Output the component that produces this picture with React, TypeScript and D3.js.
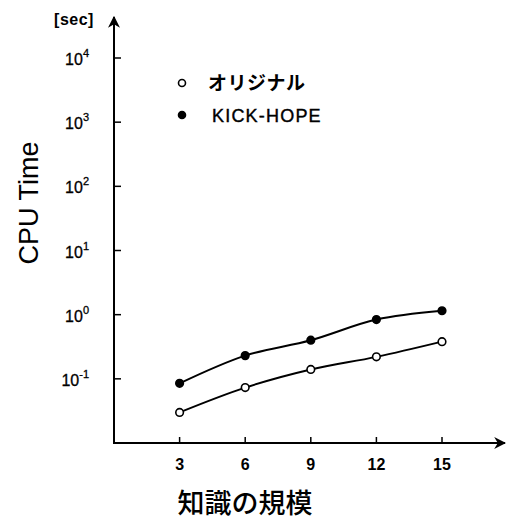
import React, { useEffect, useRef } from 'react';
import * as d3 from 'd3';

// knowledge scale (x) and CPU time in sec (log y)
const sizes = [3, 6, 9, 12, 15];
const original = [0.030, 0.073, 0.14, 0.22, 0.38];
const kickHope = [0.085, 0.23, 0.40, 0.84, 1.15];
const xTicks = [3, 6, 9, 12, 15];
const yExponents = [-1, 0, 1, 2, 3, 4];
const seriesNames = ['オリジナル', 'KICK-HOPE'];

const W = 510;
const H = 520;
const FONT = '"Liberation Sans", Arial, sans-serif';
const CJK = '"Noto Sans CJK JP", sans-serif';

export default function App() {
  const ref = useRef<SVGSVGElement>(null);

  useEffect(() => {
    const svg = d3.select(ref.current);
    svg.selectAll('*').remove();

    const x = d3.scaleLinear().domain([0, 15]).range([114, 442]);
    const y = d3.scaleLog().domain([0.01, 1e4]).range([443, 58]);
    const x0 = x(0);
    const y0 = y(0.01);

    // arrow head marker
    const defs = svg.append('defs');
    defs.append('marker')
      .attr('id', 'arrow')
      .attr('viewBox', '0 0 10 10')
      .attr('refX', 9)
      .attr('refY', 5)
      .attr('markerWidth', 12)
      .attr('markerHeight', 12)
      .attr('markerUnits', 'userSpaceOnUse')
      .attr('orient', 'auto')
      .append('path')
      .attr('d', 'M0,0 L10,5 L0,10 L3,5 Z')
      .attr('fill', 'black');

    // axes
    svg.append('line')
      .attr('x1', x0).attr('y1', y0)
      .attr('x2', 505).attr('y2', y0)
      .attr('stroke', 'black').attr('stroke-width', 2)
      .attr('marker-end', 'url(#arrow)');
    svg.append('line')
      .attr('x1', x0).attr('y1', y0 + 1)
      .attr('x2', x0).attr('y2', 17)
      .attr('stroke', 'black').attr('stroke-width', 2)
      .attr('marker-end', 'url(#arrow)');

    // x ticks (inside)
    svg.selectAll('line.xtick')
      .data(xTicks)
      .enter()
      .append('line')
      .attr('class', 'xtick')
      .attr('x1', d => x(d)).attr('x2', d => x(d))
      .attr('y1', y0).attr('y2', y0 - 6)
      .attr('stroke', 'black').attr('stroke-width', 1.5);
    svg.selectAll('text.xlabel')
      .data(xTicks)
      .enter()
      .append('text')
      .attr('class', 'xlabel')
      .attr('x', d => x(d))
      .attr('y', 470)
      .attr('text-anchor', 'middle')
      .style('font-family', FONT)
      .style('font-size', '16px')
      .style('font-weight', 'bold')
      .text(d => d);

    // y ticks (inside)
    svg.selectAll('line.ytick')
      .data(yExponents)
      .enter()
      .append('line')
      .attr('class', 'ytick')
      .attr('x1', x0).attr('x2', x0 + 7)
      .attr('y1', d => y(Math.pow(10, d))).attr('y2', d => y(Math.pow(10, d)))
      .attr('stroke', 'black').attr('stroke-width', 1.5);
    const ylab = svg.selectAll('text.ylabel')
      .data(yExponents)
      .enter()
      .append('text')
      .attr('class', 'ylabel')
      .attr('x', 89)
      .attr('y', d => y(Math.pow(10, d)) + 7)
      .attr('text-anchor', 'end')
      .style('font-family', FONT)
      .style('font-size', '16px')
      .style('stroke', 'black')
      .style('stroke-width', 0.3);
    ylab.append('tspan').text('10');
    ylab.append('tspan')
      .attr('dy', -8)
      .style('font-size', '11px')
      .text(d => d);

    svg.append('text')
      .attr('x', 74).attr('y', 25)
      .attr('text-anchor', 'middle')
      .style('font-family', FONT)
      .style('font-size', '16px')
      .style('font-weight', 'bold')
      .style('letter-spacing', '0.5px')
      .text('[sec]');

    svg.append('text')
      .attr('transform', 'translate(38,203) rotate(-90)')
      .attr('text-anchor', 'middle')
      .style('font-family', FONT)
      .style('font-size', '27px')
      .text('CPU Time');

    svg.append('text')
      .attr('x', 245).attr('y', 513)
      .attr('text-anchor', 'middle')
      .style('font-family', CJK)
      .style('font-size', '27px')
      .style('font-weight', 500)
      .text('知識の規模');

    // series
    const line = d3.line<number>()
      .x((d, i) => x(sizes[i]))
      .y(d => y(d))
      .curve(d3.curveCatmullRom.alpha(0.5));

    const series = [
      { values: original, filled: false },
      { values: kickHope, filled: true },
    ];
    series.forEach(s => {
      svg.append('path')
        .attr('d', line(s.values))
        .attr('fill', 'none')
        .attr('stroke', 'black')
        .attr('stroke-width', 2);
      svg.selectAll(null)
        .data(s.values)
        .enter()
        .append('circle')
        .attr('cx', (d, i) => x(sizes[i]))
        .attr('cy', d => y(d))
        .attr('r', 3.8)
        .attr('fill', s.filled ? 'black' : 'white')
        .attr('stroke', 'black')
        .attr('stroke-width', 1.6);
    });

    // legend
    const legend = svg.append('g');
    seriesNames.forEach((name, i) => {
      const ly = 83 + i * 32;
      legend.append('circle')
        .attr('cx', 182).attr('cy', ly)
        .attr('r', 3.5)
        .attr('fill', i === 1 ? 'black' : 'white')
        .attr('stroke', 'black')
        .attr('stroke-width', 1.6);
      legend.append('text')
        .attr('x', i === 1 ? 212 : 208)
        .attr('y', ly + 7)
        .style('font-family', i === 1 ? FONT : CJK)
        .style('font-size', i === 1 ? '18px' : '19px')
        .style('font-weight', i === 1 ? 'normal' : 'bold')
        .style('letter-spacing', i === 1 ? '1.2px' : '0.5px')
        .style('stroke', 'black')
        .style('stroke-width', i === 1 ? 0.4 : 0)
        .text(name);
    });
  }, []);

  return (
    <div style={{ position: 'fixed', left: 0, top: 0 }}>
      <svg ref={ref} width={W} height={H} style={{ display: 'block', background: 'white' }} />
    </div>
  );
}
